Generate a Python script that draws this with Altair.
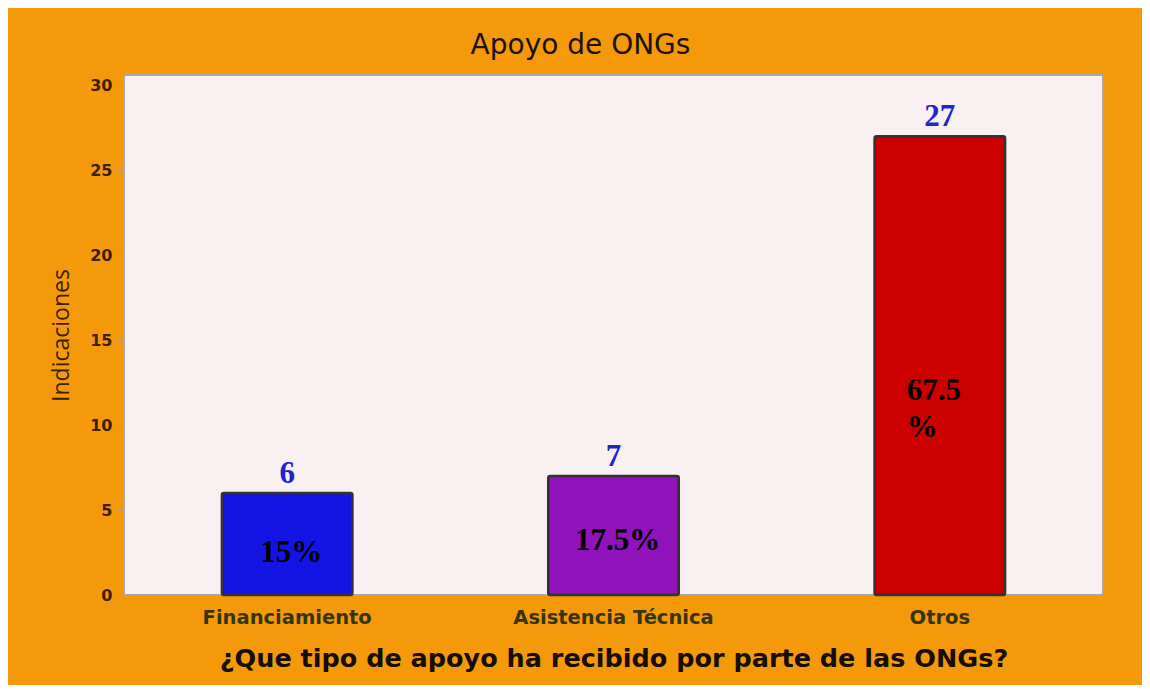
import altair as alt
import pandas as pd

categories = ["Financiamiento", "Asistencia Técnica", "Otros"]
counts = [6, 7, 27]
pct_labels = ["15%", "17.5%", "67.5\n%"]
pct_label_y = [2.5, 3.2, 12.0]
bar_colors = ["#1414e4", "#9013bb", "#cc0000"]

df = pd.DataFrame({
    "cat": categories,
    "n": counts,
    "pct": pct_labels,
    "py": pct_label_y,
    "color": bar_colors,
})

x = alt.X(
    "cat:N",
    sort=categories,
    title="¿Que tipo de apoyo ha recibido por parte de las ONGs?",
    scale=alt.Scale(paddingInner=0.6, paddingOuter=0.3),
    axis=alt.Axis(
        labelAngle=0,
        labelLimit=0,
        labelFont="DejaVu Sans",
        labelFontWeight="bold",
        labelFontSize=19.5,
        labelColor="#35350a",
        labelPadding=8,
        tickColor="#b0a090",
        tickSize=5,
        domain=False,
        titleFont="DejaVu Sans",
        titleFontWeight="bold",
        titleFontSize=25.5,
        titleColor="#140e06",
        titlePadding=20,
    ),
)

yscale = alt.Scale(domain=[0, 30.6], nice=False)

bars = alt.Chart(df).mark_bar(
    stroke="#333333", strokeWidth=2.5, cornerRadius=2
).encode(
    x=x,
    y=alt.Y(
        "n:Q",
        scale=yscale,
        title="Indicaciones",
        axis=alt.Axis(
            values=[0, 5, 10, 15, 20, 25, 30],
            grid=False,
            domain=False,
            labelFont="DejaVu Sans",
            labelFontWeight="bold",
            labelFontSize=16,
            labelColor="#3b2000",
            labelPadding=6,
            tickColor="#b0a090",
            tickSize=6,
            titleFont="Open Sans",
            titleFontWeight="normal",
            titleFontSize=23,
            titleColor="#3b2000",
            titlePadding=16,
        ),
    ),
    color=alt.Color("color:N", scale=None),
)

values = alt.Chart(df).mark_text(
    font="Liberation Serif", fontWeight="bold", fontSize=31,
    color="#2323d0", baseline="bottom", dy=-3,
).encode(
    x=alt.X("cat:N", sort=categories),
    y=alt.Y("n:Q", scale=yscale),
    text="n:N",
)

pct_center = alt.Chart(df).transform_filter(
    alt.datum.cat != "Otros"
).mark_text(
    font="Liberation Serif", fontWeight="bold", fontSize=31,
    color="#000000", baseline="middle", align="center", dx=4,
).encode(
    x=alt.X("cat:N", sort=categories),
    y=alt.Y("py:Q", scale=yscale),
    text="pct:N",
)

pct_left = alt.Chart(df).transform_filter(
    alt.datum.cat == "Otros"
).mark_text(
    font="Liberation Serif", fontWeight="bold", fontSize=31,
    color="#000000", baseline="middle", align="left", dx=-33,
    lineBreak="\n", lineHeight=37,
).encode(
    x=alt.X("cat:N", sort=categories),
    y=alt.Y("py:Q", scale=yscale),
    text="pct:N",
)

chart = alt.layer(bars, values, pct_center, pct_left).properties(
    width=979,
    height=520,
    background="#f49a0a",
    padding={"left": 116, "top": 67, "right": 39, "bottom": 90},
    autosize=alt.AutoSizeParams(type="none"),
    title=alt.TitleParams(
        "Apoyo de ONGs",
        font="DejaVu Sans",
        fontSize=28,
        fontWeight="normal",
        color="#1a1208",
        anchor="middle",
        dx=-33,
        offset=15,
    ),
).configure_view(
    fill="#f9f0f1", stroke="#a8a8a8", strokeWidth=2
)

chart.save("out.html", embed_options={"renderer": "svg", "actions": False})
